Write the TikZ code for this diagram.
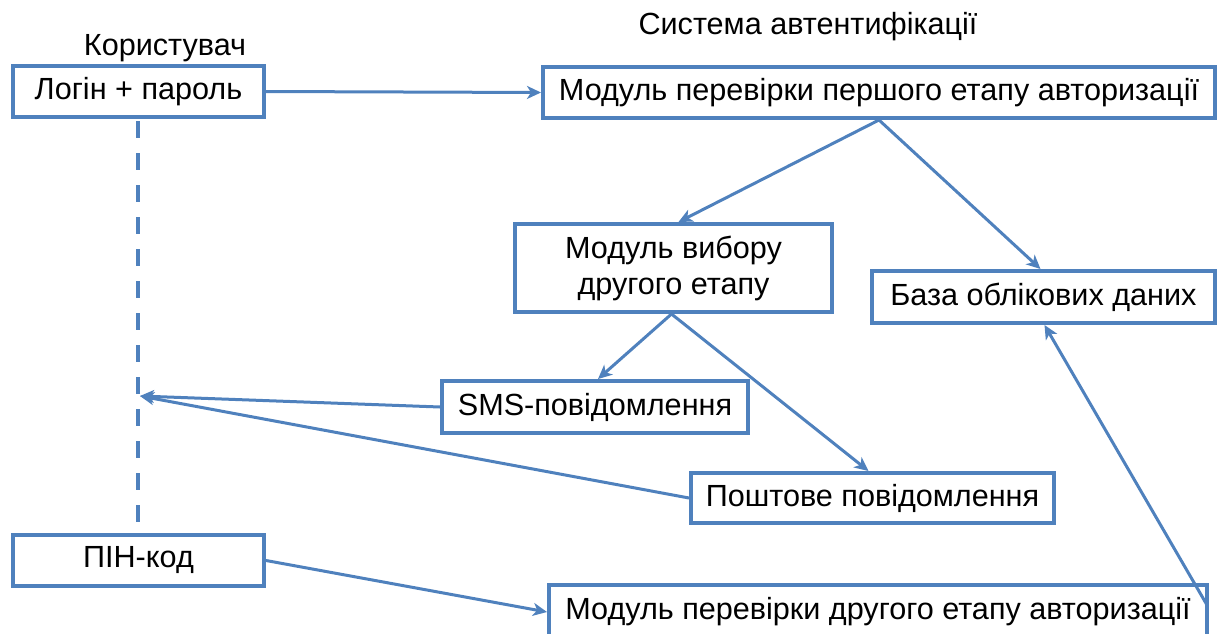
\documentclass[tikz,border=0pt]{standalone}
\usepackage{fontspec}
\setmainfont{Liberation Sans}
\usetikzlibrary{arrows.meta,calc}
\definecolor{lineblue}{HTML}{4F81BD}
\begin{document}
\begin{tikzpicture}[x=1pt,y=-1pt,
  font=\fontsize{30.6}{36}\selectfont,
  boxnode/.style={draw=lineblue, line width=4pt, fill=white, inner sep=0pt, align=center},
  conn/.style={draw=lineblue, line width=3pt, -{Stealth[length=14pt,width=13pt,inset=4pt]}},
  plainlabel/.style={inner sep=0pt}]
\useasboundingbox (0,0) rectangle (1218,634);
\clip (0,0) rectangle (1218,634);
% labels
\node[plainlabel] (user) at (165,48) {Користувач};
\node[plainlabel] (sys) at (808,27) {Система автентифікації};
% boxes
\node[boxnode, minimum width=251pt, minimum height=51pt] (login) at (138.5,91.5) {Логін + пароль};
\node[boxnode, minimum width=672pt, minimum height=51pt] (m1) at (879,92.5) {Модуль перевірки першого етапу авторизації};
\node[boxnode, minimum width=317pt, minimum height=88pt] (choose) at (673.5,268) {Модуль вибору\\другого етапу};
\node[boxnode, minimum width=343pt, minimum height=52pt] (baza) at (1043.5,297) {База облікових даних};
\node[boxnode, minimum width=306pt, minimum height=52pt] (sms) at (595,407) {SMS-повідомлення};
\node[boxnode, minimum width=363pt, minimum height=50pt] (post) at (872.5,498) {Поштове повідомлення};
\node[boxnode, minimum width=251pt, minimum height=51pt] (pin) at (138.5,560.5) {ПІН-код};
\node[boxnode, minimum width=658pt, minimum height=55pt] (m2) at (878,612) {Модуль перевірки другого етапу авторизації};
% coordinates
\coordinate (dashend) at (138,527);
\coordinate (hit) at (140,396);
% dashed lifeline
\draw[lineblue, line width=3.5pt, dash pattern=on 17pt off 15pt] ($(login.south)+(-0.5,2)$) -- (dashend);
% connectors
\draw[conn] (login.east) -- (m1.west);
\draw[conn] (m1.south) -- ($(choose.north)+(5,0)$);
\draw[conn] (m1.south) -- ($(baza.north)+(-3,0)$);
\draw[conn] ($(choose.south)+(-2,0)$) -- ($(sms.north)+(3,0)$);
\draw[conn] ($(choose.south)+(-2,0)$) -- ($(post.north)+(-4,0)$);
\draw[conn] (sms.west) -- (hit);
\draw[conn] (post.west) -- (hit);
\draw[conn] (pin.east) -- (m2.west);
\draw[conn] ($(m2.east)+(-2,-7)$) -- ($(baza.south)+(1,0)$);
\end{tikzpicture}
\end{document}
